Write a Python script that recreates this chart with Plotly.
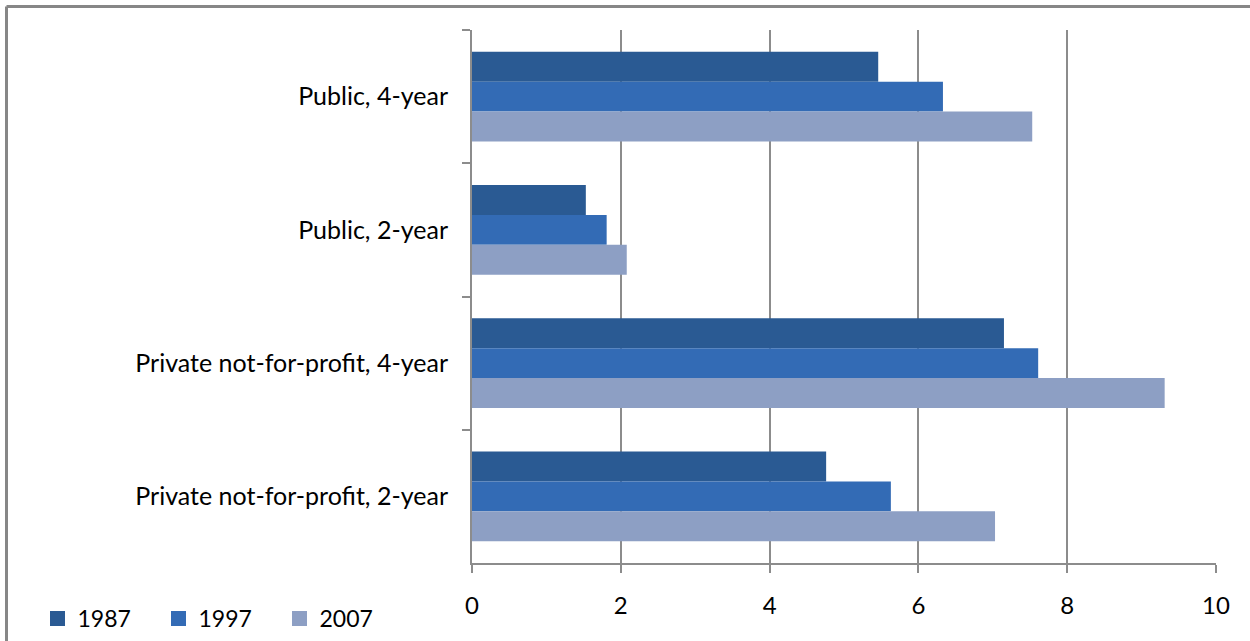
import plotly.graph_objects as go

# Institution types, listed top to bottom
categories = [
    "Public, 4-year",
    "Public, 2-year",
    "Private not-for-profit, 4-year",
    "Private not-for-profit, 2-year",
]

# Values per year for each institution type
years = ["1987", "1997", "2007"]
values_1987 = [5.46, 1.53, 7.15, 4.76]
values_1997 = [6.33, 1.81, 7.61, 5.63]
values_2007 = [7.53, 2.08, 9.31, 7.03]

x_ticks = [0, 2, 4, 6, 8, 10]

series = [values_1987, values_1997, values_2007]
colors = ["#2a5a93", "#336bb5", "#8d9fc4"]

FONT = "Lato, 'Open Sans', sans-serif"
GRID = "#8c8c8c"

fig = go.Figure()
for name, vals, col in zip(years, series, colors):
    fig.add_trace(go.Bar(
        y=categories,
        x=vals,
        name=name,
        orientation="h",
        marker=dict(color=col, line=dict(width=0)),
        showlegend=False,
        legendgroup=name,
    ))
# legend entries with larger square swatches
for name, col in zip(years, colors):
    fig.add_trace(go.Scatter(
        x=[None],
        y=[None],
        mode="markers",
        name=name,
        legendgroup=name,
        marker=dict(symbol="square", size=15, color=col),
        showlegend=True,
    ))

W, H = 1250, 641
ML, MR, MT, MB = 472, 34, 30, 78
pw = W - ML - MR
ph = H - MT - MB

fig.update_layout(
    width=W,
    height=H,
    margin=dict(l=ML, r=MR, t=MT, b=MB, pad=0, autoexpand=False),
    paper_bgcolor="white",
    plot_bgcolor="white",
    barmode="group",
    bargap=0.325,
    bargroupgap=0,
    font=dict(family=FONT, size=24, color="#000000"),
    showlegend=True,
    legend=dict(
        orientation="h",
        xref="container",
        yref="container",
        x=0.03,
        y=0.035,
        xanchor="left",
        yanchor="middle",
        font=dict(family=FONT, size=23, color="#000000"),
        itemwidth=30,
        entrywidth=76,
        entrywidthmode="pixels",
        tracegroupgap=0,
        traceorder="normal",
    ),
    xaxis=dict(
        range=[0, 10],
        tickvals=x_ticks,
        ticktext=[str(v) for v in x_ticks],
        showgrid=True,
        gridcolor=GRID,
        gridwidth=2,
        showline=True,
        linecolor=GRID,
        linewidth=2,
        ticks="outside",
        ticklen=8,
        tickwidth=2,
        tickcolor=GRID,
        ticklabelstandoff=12,
        zeroline=False,
        fixedrange=True,
    ),
    yaxis=dict(
        type="category",
        categoryorder="array",
        categoryarray=categories,
        autorange="reversed",
        showgrid=False,
        showline=True,
        linecolor=GRID,
        linewidth=2,
        ticks="outside",
        tickson="boundaries",
        ticklen=8,
        tickwidth=2,
        tickcolor=GRID,
        ticklabelstandoff=17,
        tickfont=dict(family=FONT, size=25, color="#000000"),
        zeroline=False,
        fixedrange=True,
    ),
    shapes=[
        # chart frame: left and top edges
        dict(type="line", xref="paper", yref="paper",
             x0=(6.5 - ML) / pw, x1=(6.5 - ML) / pw,
             y0=1 + (MT - 6.5) / ph, y1=-MB / ph,
             line=dict(color="#878787", width=3)),
        dict(type="line", xref="paper", yref="paper",
             x0=(6.5 - ML) / pw, x1=(W - ML) / pw,
             y0=1 + (MT - 6.5) / ph, y1=1 + (MT - 6.5) / ph,
             line=dict(color="#878787", width=3)),
    ],
)

fig.write_html("out.html")
